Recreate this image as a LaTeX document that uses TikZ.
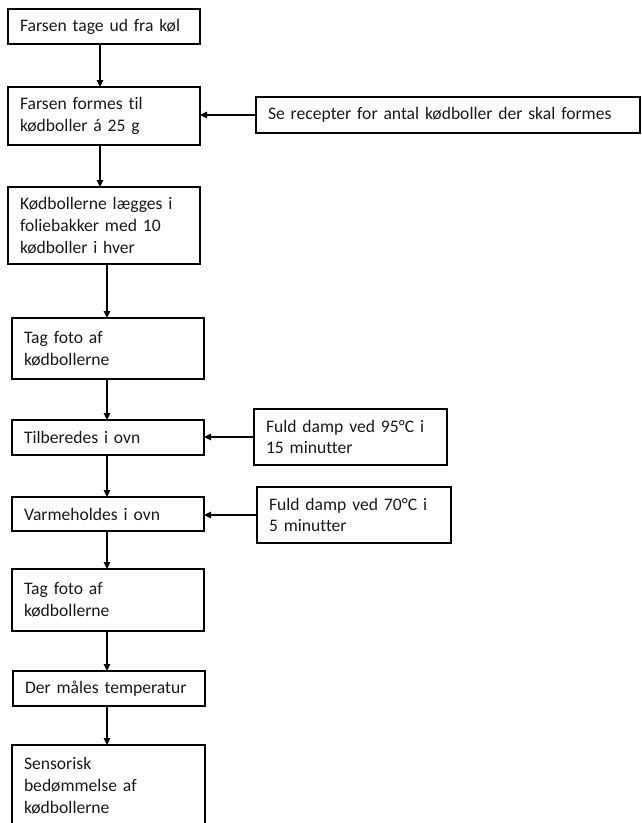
\documentclass[tikz,border=0pt]{standalone}
\usepackage{fontspec}
\setmainfont[Ligatures=NoCommon]{Carlito}
\usetikzlibrary{arrows.meta}
\begin{document}
\begin{tikzpicture}[x=1pt,y=-1pt,
  box/.style={draw=black, line width=1.2pt, rectangle, anchor=north west, outer sep=0pt,
    inner xsep=12pt, inner ysep=0pt, align=left, text=black!90,
    font=\fontsize{17.6}{21.8}\selectfont},
  arr/.style={draw=black, line width=1.2pt, -{Triangle[length=7pt,width=6.5pt]}}]
\useasboundingbox (0,0) rectangle (642,823);
\clip (0,0) rectangle (642,823);
\node[box, text width=168pt, minimum height=35pt] (b1) at (8,9) {Farsen tage ud fra køl};
\node[box, text width=168pt, minimum height=58pt] (b2) at (8,87) {Farsen formes til\\kødboller á 25 g};
\node[box, text width=168pt, minimum height=77pt] (b3) at (8,187) {Kødbollerne lægges i\\foliebakker med 10\\kødboller i hver};
\node[box, text width=168pt, minimum height=61pt] (b4) at (12,318) {Tag foto af\\kødbollerne};
\node[box, text width=168pt, minimum height=35pt] (b5) at (12,420) {Tilberedes i ovn};
\node[box, text width=168pt, minimum height=34pt] (b6) at (12,497) {Varmeholdes i ovn};
\node[box, text width=168pt, minimum height=62pt] (b7) at (12,569) {Tag foto af\\kødbollerne};
\node[box, text width=168pt, minimum height=35pt] (b8) at (13,671) {Der måles temperatur};
\node[box, text width=169pt, minimum height=81pt] (b9) at (12,745) {Sensorisk\\bedømmelse af\\kødbollerne};
\node[box, text width=360pt, minimum height=36pt] (s1) at (256,97) {Se recepter for antal kødboller der skal formes};
\node[box, text width=169pt, minimum height=56pt] (s2) at (254,409) {Fuld damp ved 95°C i\\15 minutter};
\node[box, text width=170pt, minimum height=56pt] (s3) at (257,487) {Fuld damp ved 70°C i\\5 minutter};
\coordinate (xa) at (100,0);
\coordinate (xb) at (107,0);
\draw[arr] (b1.south -| xa) -- (b2.north -| xa);
\draw[arr] (b2.south -| xa) -- (b3.north -| xa);
\draw[arr] (b3.south -| xb) -- (b4.north -| xb);
\draw[arr] (b4.south -| xb) -- (b5.north -| xb);
\draw[arr] (b5.south -| xb) -- (b6.north -| xb);
\draw[arr] (b6.south -| xb) -- (b7.north -| xb);
\draw[arr] (b7.south -| xb) -- (b8.north -| xb);
\draw[arr] (b8.south -| xb) -- (b9.north -| xb);
\draw[arr] (s1.west) -- (s1.west -| b2.east);
\draw[arr] (s2.west) -- (s2.west -| b5.east);
\draw[arr] (s3.west) -- (s3.west -| b6.east);
\end{tikzpicture}
\end{document}
